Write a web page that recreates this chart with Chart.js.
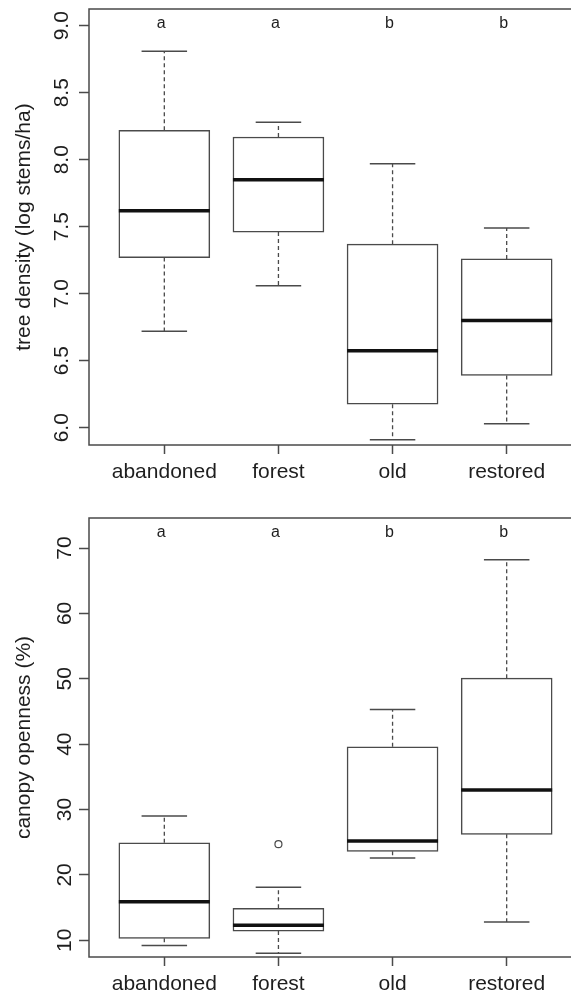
<!DOCTYPE html>
<html>
<head>
<meta charset="utf-8">
<script src="https://cdn.jsdelivr.net/npm/chart.js@4.4.1/dist/chart.umd.min.js"></script>
<style>
  html, body { margin: 0; padding: 0; background: #fff; overflow: hidden; }
  canvas { display: block; }
</style>
</head>
<body>
<canvas id="density" width="582" height="500"></canvas>
<canvas id="canopy" width="582" height="495"></canvas>
<script>
// groups on the x axis
const categories = ['abandoned', 'forest', 'old', 'restored'];

// tree density (log stems/ha)
const densityMin = [6.72, 7.06, 5.91, 6.03];
const densityQ1 = [7.27, 7.46, 6.175, 6.39];
const densityMed = [7.62, 7.85, 6.575, 6.80];
const densityQ3 = [8.22, 8.17, 7.37, 7.26];
const densityMax = [8.81, 8.28, 7.97, 7.49];
const densityTicks = [6.0, 6.5, 7.0, 7.5, 8.0, 8.5, 9.0];
const densityRange = [5.871, 9.125];
const densityLetters = ['a', 'a', 'b', 'b'];
const densityLetterY = 8.98;

// canopy openness (%), bottom panel
const canopyMin = [9.2, 8.0, 22.6, 12.8];
const canopyQ1 = [10.3, 11.4, 23.6, 26.2];
const canopyMed = [15.9, 12.3, 25.2, 33.0];
const canopyQ3 = [24.9, 14.9, 39.6, 50.1];
const canopyMax = [29.0, 18.1, 45.3, 68.2];
const canopyOutlierGroup = ['forest'];
const canopyOutlierValue = [24.7];
const canopyTicks = [10, 20, 30, 40, 50, 60, 70];
const canopyRange = [7.44, 74.6];
const canopyLetters = ['a', 'a', 'b', 'b'];
const canopyLetterY = 71.7;

const xRange = [0.34, 4.66];
const FONT = '"Liberation Sans", Arial, sans-serif';
const TEXT = '#1e1e1e';
const LINE = '#4a4a4a';
const BOX_W = 91;

const framePlugin = {
  id: 'frame',
  afterDatasetsDraw(chart) {
    const { ctx, chartArea: a } = chart;
    ctx.save();
    ctx.strokeStyle = LINE;
    ctx.lineWidth = 1.5;
    ctx.strokeRect(a.left, a.top, a.right - a.left, a.bottom - a.top);
    ctx.restore();
  }
};

const lettersPlugin = {
  id: 'letters',
  afterDatasetsDraw(chart, args, opts) {
    const { ctx, scales: { x, y } } = chart;
    ctx.save();
    ctx.font = '16px ' + FONT;
    ctx.fillStyle = TEXT;
    ctx.textAlign = 'center';
    ctx.textBaseline = 'alphabetic';
    opts.labels.forEach((t, i) => {
      ctx.fillText(t, x.getPixelForValue(i + 1) - 3, y.getPixelForValue(opts.y));
    });
    ctx.restore();
  }
};

function boxPanel(id, p) {
  const xs = categories.map((c, i) => i + 1);
  const whiskers = [];
  const caps = [];
  xs.forEach((x, i) => {
    whiskers.push({ x, y: p.q3[i] }, { x, y: p.max[i] }, { x, y: null },
                  { x, y: p.q1[i] }, { x, y: p.min[i] }, { x, y: null });
    caps.push({ x, y: p.max[i] }, { x, y: p.min[i] });
  });
  const outliers = p.outGroup.map((g, i) => ({ x: categories.indexOf(g) + 1, y: p.outValue[i] }));
  const canvas = document.getElementById(id);

  new Chart(canvas, {
    type: 'bar',
    data: {
      datasets: [
        {
          type: 'scatter',
          data: xs.map((x, i) => ({ x, y: p.med[i] })),
          pointStyle: 'line',
          pointRadius: BOX_W / 2,
          pointBorderColor: '#111',
          pointBorderWidth: 3.5
        },
        {
          type: 'scatter',
          data: caps,
          pointStyle: 'line',
          pointRadius: BOX_W / 4,
          pointBorderColor: LINE,
          pointBorderWidth: 1.5
        },
        {
          type: 'scatter',
          data: outliers,
          pointStyle: 'circle',
          pointRadius: 3.5,
          pointBorderColor: LINE,
          pointBackgroundColor: '#fff',
          pointBorderWidth: 1.2
        },
        {
          type: 'bar',
          data: xs.map((x, i) => ({ x, y: [p.q1[i], p.q3[i]] })),
          backgroundColor: '#fff',
          borderColor: LINE,
          borderWidth: 1.5,
          borderSkipped: false,
          barThickness: BOX_W
        },
        {
          type: 'line',
          data: whiskers,
          borderColor: LINE,
          borderWidth: 1.3,
          borderDash: [4, 3],
          pointRadius: 0,
          spanGaps: false,
          fill: false
        }
      ]
    },
    options: {
      responsive: false,
      animation: false,
      events: [],
      layout: { autoPadding: false, padding: { top: p.top, left: 0, right: 0, bottom: 0 } },
      plugins: {
        legend: { display: false },
        tooltip: { enabled: false },
        letters: { labels: p.letters, y: p.letterY }
      },
      scales: {
        x: {
          type: 'linear',
          min: xRange[0],
          max: xRange[1],
          offset: false,
          border: { display: false },
          grid: { offset: false, drawOnChartArea: false, drawTicks: true, tickLength: 9, tickColor: LINE, tickWidth: 1.5 },
          ticks: {
            autoSkip: false, maxRotation: 0, padding: 6,
            font: { family: FONT, size: 21 }, color: TEXT,
            callback: v => categories[v - 1]
          },
          afterBuildTicks: s => { s.ticks = xs.map(v => ({ value: v })); },
          afterFit: s => { s.height = canvas.height - p.bottom; s.paddingLeft = 0; s.paddingRight = 0; }
        },
        y: {
          min: p.range[0],
          max: p.range[1],
          border: { display: false },
          grid: { drawOnChartArea: false, drawTicks: true, tickLength: 10, tickColor: LINE, tickWidth: 1.5 },
          ticks: {
            autoSkip: false, minRotation: 90, maxRotation: 90, crossAlign: 'center', padding: 2,
            font: { family: FONT, size: 21 }, color: TEXT,
            callback: p.fmt
          },
          title: {
            display: true, text: p.title, color: TEXT,
            font: { family: FONT, size: 21 },
            padding: { top: 12, bottom: 0 }
          },
          afterBuildTicks: s => { s.ticks = p.ticks.map(v => ({ value: v })); },
          afterFit: s => { s.width = 89; s.paddingTop = 0; s.paddingBottom = 0; }
        }
      }
    },
    plugins: [framePlugin, lettersPlugin]
  });
}

boxPanel('density', {
  min: densityMin, q1: densityQ1, med: densityMed, q3: densityQ3, max: densityMax,
  outGroup: [], outValue: [],
  ticks: densityTicks, range: densityRange,
  letters: densityLetters, letterY: densityLetterY,
  title: 'tree density (log stems/ha)',
  fmt: v => v.toFixed(1),
  top: 9, bottom: 445
});

boxPanel('canopy', {
  min: canopyMin, q1: canopyQ1, med: canopyMed, q3: canopyQ3, max: canopyMax,
  outGroup: canopyOutlierGroup, outValue: canopyOutlierValue,
  ticks: canopyTicks, range: canopyRange,
  letters: canopyLetters, letterY: canopyLetterY,
  title: 'canopy openness (%)',
  fmt: v => String(v),
  top: 18, bottom: 457
});
</script>
</body>
</html>
